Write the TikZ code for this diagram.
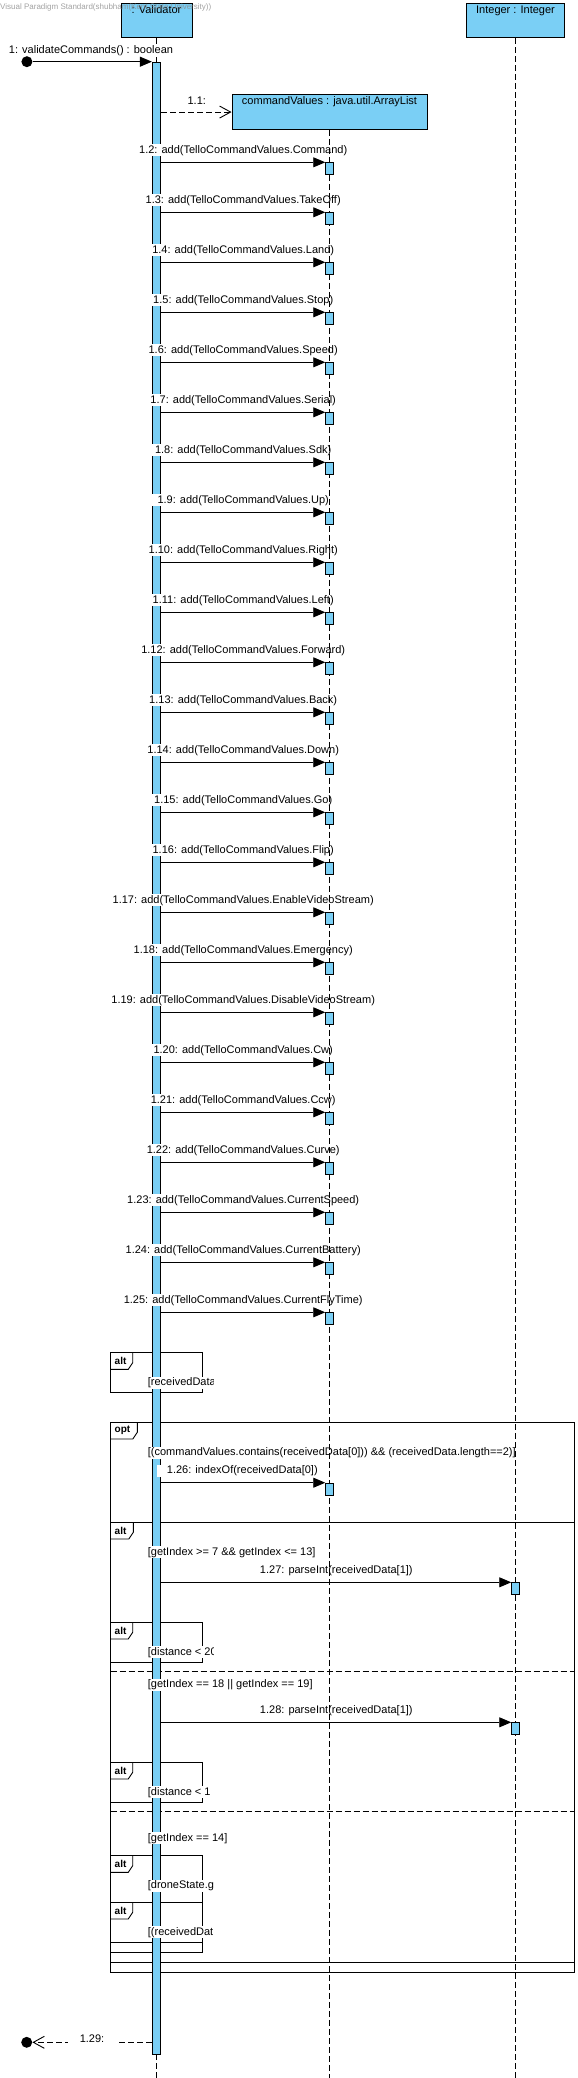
\documentclass[tikz,border=0pt]{standalone}
\usepackage{fontspec}
\setmainfont{Liberation Sans}
\usepackage{tikz}
\usetikzlibrary{arrows.meta,positioning,calc}
\definecolor{vpblue}{HTML}{7ACFF5}
\definecolor{vpmark}{HTML}{8A8A8A}
\tikzset{
  seqhead/.style={draw=black,fill=vpblue,line width=0.9pt,anchor=north,font=\fontsize{11}{13}\selectfont,inner xsep=2pt,inner ysep=2pt,text height=8pt,text depth=22.6pt},
  seqlife/.style={draw=black,line width=0.9pt,dash pattern=on 6pt off 3pt},
  seqbar/.style={draw=black,fill=vpblue,line width=0.9pt,minimum width=8.4pt,inner sep=0pt,anchor=north},
  seqact/.style={draw=black,fill=vpblue,line width=0.9pt,minimum width=7.6pt,minimum height=12pt,inner sep=0pt,anchor=north},
  seqmsg/.style={-{Triangle[length=12pt,width=10pt]},draw=black,line width=0.9pt},
  seqcreate/.style={-{Straight Barb[length=11pt,width=12pt]},draw=black,line width=0.9pt,dash pattern=on 6pt off 3pt},
  seqlabel/.style={font=\fontsize{11}{13}\selectfont,fill=white,inner xsep=10pt,inner ysep=1pt},
  seqguard/.style={font=\fontsize{11}{13}\selectfont,fill=white,inner xsep=1pt,inner ysep=1pt,anchor=west},
  seqframe/.style={draw=black,line width=0.9pt},
  seqsep/.style={draw=black,line width=0.9pt,dash pattern=on 6pt off 3pt},
  seqtag/.style={font=\bfseries\fontsize{10}{12}\selectfont,inner sep=0pt,anchor=west},
  seqdot/.style={circle,fill=black,minimum size=11pt,inner sep=0pt}
}
\newcommand\addcalls{2/Command,3/TakeOff,4/Land,5/Stop,6/Speed,7/Serial,8/Sdk,9/Up,10/Right,11/Left,12/Forward,13/Back,14/Down,15/Go,16/Flip,17/EnableVideoStream,18/Emergency,19/DisableVideoStream,20/Cw,21/Ccw,22/Curve,23/CurrentSpeed,24/CurrentBattery,25/CurrentFlyTime}

\begin{document}
\begin{tikzpicture}[x=1pt,y=-1pt]
\useasboundingbox (0,0) rectangle (578,2078);
% combined fragments
\draw[seqframe] (110.7,1352.7) rectangle (202.7,1392.3);
\draw[seqframe] (110.7,1422.3) rectangle (574.3,1972.3);
\draw[seqframe] (110.7,1522.3) rectangle (574.3,1962.3);
\draw[seqframe] (110.7,1622.3) rectangle (202.7,1662.3);
\draw[seqframe] (110.7,1762.3) rectangle (202.7,1802.3);
\draw[seqframe] (110.7,1855.7) rectangle (202.7,1952.3);
\draw[seqframe] (110.7,1902.3) rectangle (202.7,1942.3);
\draw[seqsep] (110.7,1671) -- (574.3,1671);
\draw[seqsep] (110.7,1811) -- (574.3,1811);
\foreach \t/\w/\k [count=\i] in {1352.7/22/alt,1422.3/26.6/opt,1522.3/22.6/alt,1622.3/22/alt,1762.3/22/alt,1855.7/22/alt,1902.3/22/alt}{
  \draw[seqframe] (110.7,\t+16.7) -- (110.7+\w-4.5,\t+16.7) -- (110.7+\w,\t+10) -- (110.7+\w,\t);
  \node[seqtag] (tag\i) at (114.5,\t+8.4) {\k};
}
% lifelines
\node[seqhead,minimum width=71pt] (val) at (156.5,2.7) {: Validator};
\node[seqhead,minimum width=97.5pt] (int) at (515.5,2.7) {Integer : Integer};
\node[seqhead,minimum width=195pt] (cv) at (329.5,94.3) {commandValues : java.util.ArrayList};
\draw[seqlife] (val.south) -- ++(0,2040.7);
\node[seqbar,minimum height=1992.3pt] (vbar) at (156.5,61.7) {};
% labels and guards
\node[seqlabel] (lcall) at (91,50.7) {1: validateCommands() : boolean};
\node[seqlabel] (lnew) at (196.8,101) {1.1:};
\foreach \n/\v in \addcalls{
  \node[seqlabel] (l\n) at (243.2,{150.3+(\n-2)*50}) {1.\n: add(TelloCommandValues.\v)};
}
\node[seqlabel] (lidx) at (242.3,1471) {1.26: indexOf(receivedData[0])};
\node[seqlabel] (lpi1) at (336.3,1570.7) {1.27: parseInt(receivedData[1])};
\node[seqlabel] (lpi2) at (336.3,1711) {1.28: parseInt(receivedData[1])};
\node[seqguard] (gopt) at (146.7,1452.7) {[(commandValues.contains(receivedData[0])) \&\& (receivedData.length==2)]};
\node[seqguard] (galt1) at (146.7,1552.3) {[getIndex >= 7 \&\& getIndex <= 13]};
\node[seqguard] (galt2) at (146.7,1685) {[getIndex == 18 || getIndex == 19]};
\node[seqguard] (galt3) at (146.7,1838.3) {[getIndex == 14]};
\begin{scope}
\clip (110.7,1352.7) rectangle (213,1392.3);
\node[seqguard] (grec) at (146.7,1382.7) {[receivedData};
\end{scope}
\begin{scope}
\clip (110.7,1622.3) rectangle (213,1662.3);
\node[seqguard] (gdist1) at (146.7,1652.3) {[distance < 20};
\end{scope}
\begin{scope}
\clip (110.7,1762.3) rectangle (213,1802.3);
\node[seqguard] (gdist2) at (146.7,1792.3) {[distance < 1};
\end{scope}
\begin{scope}
\clip (110.7,1855.7) rectangle (213,1902.3);
\node[seqguard] (gdrone) at (146.7,1885.7) {[droneState.g};
\end{scope}
\begin{scope}
\clip (110.7,1902.3) rectangle (213,1942.3);
\node[seqguard] (grec2) at (146.7,1932.3) {[(receivedDat};
\end{scope}
\draw[seqlife] (cv.south) -- ++(0,1948.7);
\draw[seqlife] (int.south) -- ++(0,2040.7);
% messages
\node[seqdot] (start) at (26.9,61.7) {};
\draw[seqmsg] (start) -- (vbar.north west);
\draw[seqcreate] (vbar.east |- cv.west) -- (cv.west);
\foreach \n/\v in \addcalls{
  \node[seqact] (a\n) at (329.5,{162.3+(\n-2)*50}) {};
  \draw[seqmsg] (vbar.east |- a\n.north) -- (a\n.north west);
}
\node[seqact] (idx) at (329.5,1482.7) {};
\draw[seqmsg] (vbar.east |- idx.north) -- (idx.north west);
\node[seqact] (pi1) at (515.5,1582.3) {};
\draw[seqmsg] (vbar.east |- pi1.north) -- (pi1.north west);
\node[seqact] (pi2) at (515.5,1722.3) {};
\draw[seqmsg] (vbar.east |- pi2.north) -- (pi2.north west);
\node[seqdot] (stop) at (26.7,2042.3) {};
\draw[seqcreate] (vbar.west |- stop) -- (stop);
\node[seqlabel,inner xsep=12pt] (lret) at (92,2038.5) {1.29:};
% watermark
\node[font=\fontsize{8}{9}\selectfont,text=vpmark,anchor=west,inner sep=0pt,opacity=0.8] (mark) at (0,7) {Visual Paradigm Standard(shubham(Kent State University))};
\end{tikzpicture}
\end{document}
